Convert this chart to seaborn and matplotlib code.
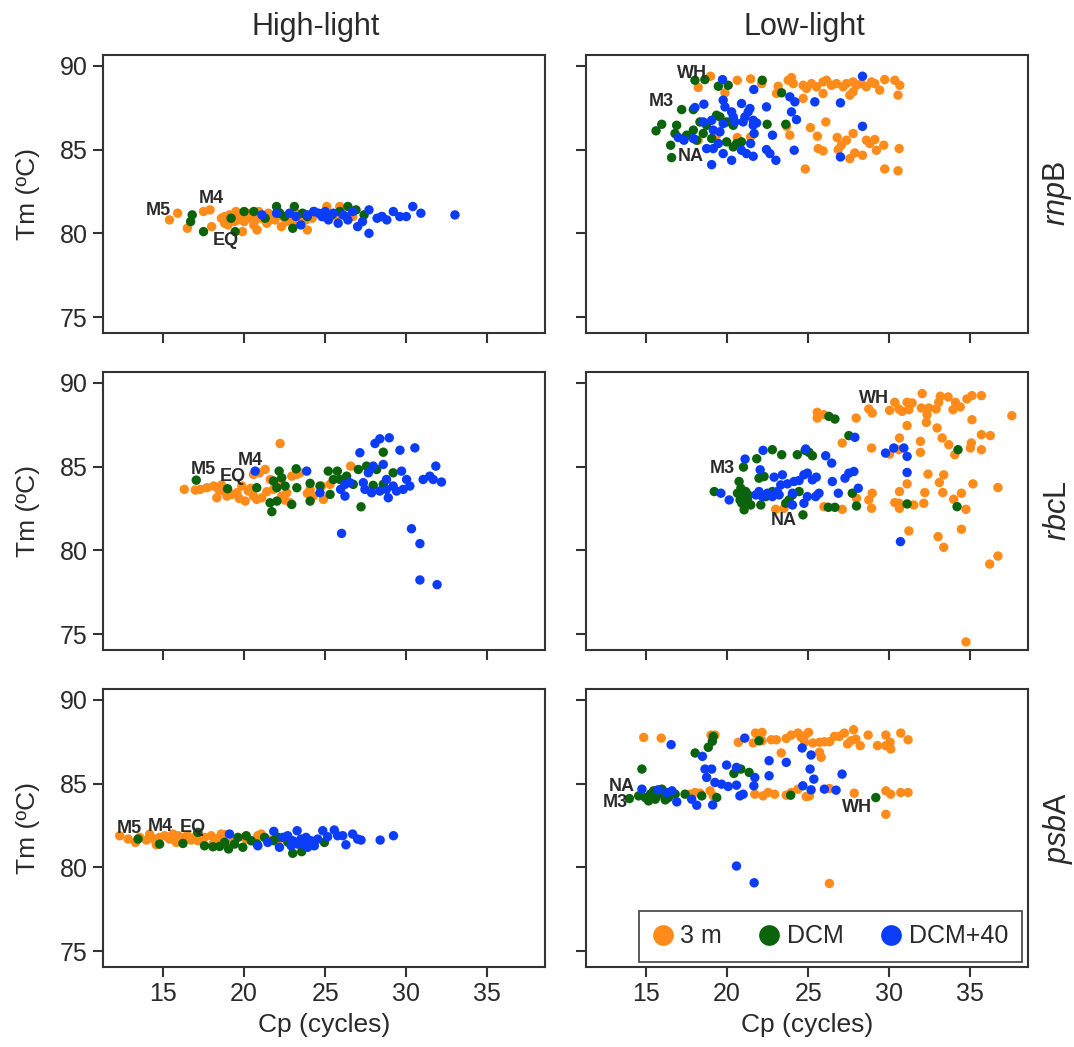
import pandas as pd
import matplotlib
matplotlib.use("Agg")
import matplotlib.pyplot as plt
import seaborn as sns

depths = ["3 m", "DCM", "DCM+40"]
colors = ["#ff8c1a", "#0b640b", "#0a3cfa"]
genes = ["rnpB", "rbcL", "psbA"]
gene_labels = [r"$\it{rnp}$B", r"$\it{rbc}$L", r"$\it{psb}$A"]
lights = ["High-light", "Low-light"]
x_ticks = [15, 20, 25, 30, 35]
y_ticks = [75, 80, 85, 90]

# (Cp, Tm) pairs, one list per panel and depth
rnpb_hl_3m = [(15.4, 80.8), (15.9, 81.2), (16.5, 80.3), (17.5, 81.3), (17.9, 81.4), (18.0, 80.4),
              (18.6, 80.9), (18.8, 81.0), (18.8, 80.6), (19.0, 80.5), (19.3, 81.1), (19.5, 81.3),
              (19.6, 80.8), (19.9, 80.1), (20.0, 80.7), (20.2, 81.2), (20.3, 80.9), (20.5, 81.2),
              (20.6, 80.5), (20.8, 80.2), (20.9, 81.3), (21.1, 80.9), (21.2, 81.0), (21.4, 80.6),
              (21.5, 81.2), (21.7, 81.0), (21.9, 80.8), (22.1, 81.3), (22.3, 80.4), (22.4, 81.0),
              (22.6, 80.7), (22.9, 80.9), (23.2, 81.2), (23.5, 81.0), (23.8, 80.8), (23.9, 80.2),
              (24.2, 80.9), (25.1, 81.6), (25.7, 81.0), (25.9, 81.6), (26.7, 81.0), (19.1, 81.1),
              (19.7, 81.0), (20.4, 81.0), (20.7, 80.8), (21.0, 81.1), (21.6, 80.8), (22.0, 81.1),
              (22.8, 81.1), (23.0, 80.6), (19.4, 80.7)]
rnpb_hl_dcm = [(16.7, 80.7), (16.8, 81.1), (17.5, 80.1), (19.2, 80.9), (19.45, 80.1), (20.0, 81.3),
               (20.6, 81.3), (21.3, 80.9), (22.0, 81.6), (22.5, 81.0), (23.0, 80.3), (23.1, 81.6),
               (23.6, 81.2), (24.3, 81.3), (24.9, 81.0), (25.4, 81.1), (26.4, 81.6), (26.9, 81.4),
               (27.4, 81.1), (28.5, 81.0), (22.2, 81.2), (23.9, 81.0), (25.9, 81.3)]
rnpb_hl_dcm40 = [(21.1, 81.1), (22.0, 81.2), (22.8, 81.2), (23.2, 81.0), (23.5, 80.5), (23.9, 81.1),
                 (24.3, 81.3), (24.8, 81.0), (25.2, 80.8), (25.5, 81.2), (25.8, 80.6), (26.1, 81.1),
                 (26.4, 80.8), (26.7, 81.3), (27.0, 80.4), (27.3, 80.7), (27.7, 81.4), (27.7, 80.0),
                 (28.2, 80.9), (28.5, 81.0), (28.8, 80.8), (29.2, 81.3), (29.6, 81.0), (30.0, 81.0),
                 (30.4, 81.6), (30.9, 81.2), (33.0, 81.1), (24.6, 81.2), (26.3, 81.0), (25.0, 81.3)]

rnpb_ll_3m = [(18.98, 89.38), (18.22, 88.71), (19.87, 88.39), (20.63, 89.14), (21.45, 89.22), (22.13, 88.94),
              (23.15, 88.78), (23.05, 88.35), (23.77, 89.14), (23.97, 89.3), (24.08, 88.94), (24.69, 88.84),
              (24.9, 88.65), (25.21, 88.94), (25.51, 88.75), (25.92, 89.04), (26.13, 89.14), (26.44, 88.84),
              (26.75, 88.94), (27.16, 88.75), (27.36, 88.94), (27.77, 89.04), (27.98, 88.84), (28.29, 88.94),
              (28.59, 88.75), (28.9, 89.04), (29.11, 88.94), (29.41, 88.55), (29.72, 89.18), (30.34, 89.14),
              (30.65, 88.84), (30.54, 88.25), (24.69, 88.05), (25.92, 88.35), (27.57, 88.25), (27.77, 88.45),
              (23.67, 86.39), (23.87, 85.86), (25.14, 86.31), (26.09, 86.65), (25.57, 85.8), (25.62, 85.06),
              (25.92, 84.92), (26.79, 85.72), (26.85, 85.0), (27.05, 85.26), (27.36, 85.56), (27.77, 85.96),
              (27.57, 84.46), (27.87, 84.8), (28.35, 84.66), (28.59, 85.56), (28.8, 85.36), (29.11, 85.6),
              (29.21, 84.96), (29.66, 85.26), (29.72, 83.84), (30.61, 85.06), (30.54, 83.73), (24.82, 83.84),
              (20.63, 85.72), (21.45, 85.76), (19.35, 85.86), (18.22, 85.56)]
rnpb_ll_dcm = [(18.02, 89.14), (18.63, 89.18), (19.46, 88.78), (20.07, 88.84), (22.17, 89.14), (23.36, 88.39),
               (17.2, 87.39), (17.92, 87.39), (15.97, 86.51), (15.62, 86.12), (16.89, 86.45), (16.79, 85.96),
               (17.51, 85.86), (17.92, 86.16), (18.33, 86.65), (18.74, 86.45), (19.35, 87.05), (19.56, 86.95),
               (19.97, 86.65), (20.38, 86.45), (19.05, 85.66), (19.97, 85.46), (20.38, 85.16), (20.59, 85.36),
               (20.89, 85.46), (16.52, 85.26), (16.58, 84.52), (22.47, 86.51), (23.62, 86.51), (18.53, 85.96),
               (18.12, 85.56)]
rnpb_ll_dcm40 = [(19.72, 89.18), (28.35, 89.38), (21.65, 88.59), (20.89, 87.75), (21.41, 87.45), (21.3, 87.25),
                 (22.43, 87.55), (18.57, 87.71), (18.02, 87.51), (19.76, 87.95), (19.87, 87.55), (20.28, 87.25),
                 (20.38, 86.95), (20.48, 86.65), (20.99, 86.65), (21.1, 86.95), (21.61, 86.75), (21.82, 86.59),
                 (21.61, 86.45), (21.67, 85.96), (23.87, 88.15), (24.18, 87.85), (23.97, 87.25), (24.28, 86.79),
                 (25.41, 87.85), (26.99, 87.79), (28.35, 86.39), (24.14, 84.96), (26.99, 84.56), (16.99, 85.72),
                 (17.34, 85.56), (17.92, 85.66), (18.53, 86.65), (19.05, 86.75), (19.15, 86.16), (19.56, 86.06),
                 (19.76, 86.55), (18.74, 85.06), (19.15, 85.06), (19.46, 85.36), (19.76, 84.76), (20.28, 84.36),
                 (19.05, 84.1), (20.89, 84.96), (21.2, 84.76), (21.61, 84.6), (22.43, 85.0), (22.64, 84.76),
                 (23.01, 84.36), (21.45, 85.36), (22.8, 85.86)]

rbcl_hl_3m = [(16.31, 83.64), (16.99, 83.6), (17.3, 83.64), (17.71, 83.74), (18.12, 83.84), (18.43, 83.64),
              (18.32, 83.14), (18.73, 83.54), (18.94, 83.24), (19.25, 83.34), (19.55, 83.44), (19.86, 83.84),
              (20.07, 82.94), (20.27, 83.54), (20.58, 83.24), (20.78, 83.04), (21.09, 83.14), (20.58, 84.53),
              (20.95, 84.63), (21.3, 84.83), (21.61, 84.23), (21.81, 83.64), (22.22, 84.04), (22.22, 86.38),
              (22.32, 83.24), (22.63, 83.44), (22.84, 82.84), (22.94, 84.43), (23.25, 84.53), (23.45, 84.63),
              (24.07, 83.64), (24.27, 83.24), (24.78, 83.84), (24.89, 83.04), (25.3, 83.94), (26.57, 85.03),
              (18.6, 83.9), (19.7, 83.1), (20.4, 83.7), (21.4, 83.5), (22.5, 83.0), (23.9, 83.4)]
rbcl_hl_dcm = [(17.05, 84.19), (18.98, 83.68), (20.78, 83.74), (21.71, 82.31), (21.6, 82.84), (22.16, 84.73),
               (21.81, 84.14), (22.02, 83.74), (22.32, 84.33), (22.53, 83.84), (22.02, 82.94), (22.94, 82.74),
               (23.21, 84.87), (23.25, 83.74), (24.07, 84.0), (24.07, 82.94), (24.68, 83.84), (25.19, 84.73),
               (25.75, 84.73), (25.5, 84.23), (25.91, 84.23), (26.32, 84.43), (26.73, 83.94), (27.04, 84.83),
               (27.21, 82.6), (27.55, 85.03), (27.96, 83.88), (28.17, 84.83), (28.58, 85.86), (29.19, 84.63),
               (28.58, 83.94), (25.3, 83.34)]
rbcl_hl_dcm40 = [(23.86, 84.73), (24.68, 83.44), (26.01, 81.01), (25.95, 83.64), (26.22, 83.94), (26.53, 84.04),
                 (26.22, 83.24), (27.14, 85.83), (27.35, 84.04), (27.45, 83.64), (27.66, 84.63), (27.86, 83.44),
                 (27.96, 85.03), (28.07, 86.38), (28.37, 86.66), (28.58, 85.13), (28.78, 84.23), (28.89, 83.14),
                 (28.95, 86.72), (29.19, 83.84), (29.61, 85.98), (29.71, 84.73), (29.81, 83.64), (30.02, 84.23),
                 (30.22, 83.84), (30.53, 86.12), (30.32, 81.29), (30.84, 80.4), (30.84, 78.23), (31.9, 77.95),
                 (31.04, 84.23), (31.45, 84.43), (31.66, 84.23), (31.82, 85.03), (32.17, 84.08), (28.37, 83.54),
                 (28.78, 83.64), (29.4, 83.54), (20.68, 84.73)]

rbcl_ll_3m = [(35.68, 89.24), (35.1, 89.24), (34.79, 89.04), (34.38, 88.56), (34.08, 88.84), (33.93, 88.4),
              (33.63, 89.16), (33.15, 89.2), (33.05, 88.84), (32.89, 88.44), (32.44, 88.5), (32.33, 88.1),
              (32.29, 87.64), (31.98, 88.5), (32.03, 89.36), (31.41, 88.8), (31.21, 88.4), (31.1, 88.84),
              (30.79, 88.3), (30.59, 88.44), (30.34, 88.84), (30.02, 88.36), (28.95, 88.2), (28.74, 88.44),
              (27.96, 87.9), (25.56, 88.24), (25.56, 87.9), (25.97, 88.1), (35.1, 87.8), (32.95, 87.31),
              (31.1, 87.45), (33.26, 86.71), (33.67, 86.31), (34.04, 85.71), (35.06, 86.41), (35.0, 86.11),
              (35.68, 86.01), (35.68, 86.91), (31.92, 86.51), (31.92, 85.85), (30.63, 86.71), (30.02, 85.75),
              (30.59, 86.01), (28.91, 86.11), (27.1, 86.41), (32.39, 84.55), (33.36, 84.51), (33.09, 84.05),
              (35.16, 83.97), (30.63, 83.51), (31.1, 83.97), (32.19, 83.45), (33.3, 83.45), (34.45, 83.41),
              (33.97, 83.05), (34.73, 82.45), (32.13, 82.81), (31.51, 82.71), (30.59, 82.81), (30.34, 82.85),
              (30.63, 82.51), (28.95, 83.41), (28.74, 83.01), (28.91, 82.51), (27.98, 83.11), (27.1, 82.45),
              (25.97, 82.61), (25.56, 83.31), (23.0, 82.45), (23.51, 82.51), (31.21, 81.16), (33.01, 80.82),
              (33.36, 80.18), (34.45, 81.26), (34.73, 74.53), (36.19, 79.18), (36.7, 79.66), (37.56, 88.04),
              (36.7, 83.75), (36.23, 86.85)]
rbcl_ll_dcm = [(19.21, 83.51), (20.74, 84.11), (20.85, 83.71), (20.64, 83.41), (20.95, 83.21), (21.15, 83.51),
               (20.91, 82.81), (21.05, 82.42), (21.26, 83.01), (21.46, 82.71), (21.01, 84.97), (21.83, 85.47),
               (21.97, 84.31), (22.28, 84.41), (22.08, 82.71), (22.79, 86.01), (23.37, 85.71), (24.33, 85.71),
               (24.81, 85.97), (25.05, 85.85), (25.26, 85.65), (24.03, 83.31), (23.82, 83.01), (23.62, 82.81),
               (24.44, 83.51), (24.68, 82.12), (26.28, 88.0), (26.65, 87.84), (26.24, 82.57), (26.65, 82.57),
               (27.51, 86.85), (27.72, 83.41), (27.98, 82.65), (31.1, 82.77), (34.18, 82.61), (34.24, 86.01),
               (22.79, 83.51), (22.38, 83.21), (21.3, 83.3), (20.8, 83.0)]
rbcl_ll_dcm40 = [(19.62, 83.41), (20.13, 83.01), (21.11, 85.45), (22.22, 85.97), (22.04, 84.81), (21.77, 83.31),
                 (21.97, 83.51), (22.18, 83.21), (22.49, 83.41), (22.79, 83.21), (23.1, 83.51), (23.21, 83.31),
                 (22.9, 84.37), (23.41, 84.51), (23.72, 83.97), (23.31, 83.91), (24.03, 83.41), (24.13, 84.11),
                 (24.44, 84.17), (24.74, 84.51), (24.85, 86.05), (24.95, 84.61), (25.26, 84.21), (25.5, 84.37),
                 (24.74, 82.81), (24.03, 82.71), (24.95, 83.21), (25.67, 83.41), (26.08, 85.65), (26.45, 85.21),
                 (26.49, 84.11), (26.86, 83.41), (27.27, 84.31), (27.51, 84.61), (27.82, 84.71), (28.09, 83.71),
                 (27.88, 86.75), (29.77, 85.81), (30.28, 86.11), (30.9, 86.11), (31.1, 85.61), (31.1, 84.65),
                 (30.69, 80.52), (25.46, 83.21)]

psba_hl_3m = [(12.33, 81.89), (12.85, 81.69), (13.3, 81.49), (13.97, 81.63), (14.18, 81.99), (14.59, 81.35),
              (14.79, 81.79), (15.1, 81.89), (15.41, 81.69), (15.82, 81.49), (15.92, 81.89), (16.33, 81.79),
              (16.74, 81.63), (17.05, 81.89), (17.15, 81.59), (17.56, 81.79), (17.97, 81.89), (18.08, 81.39),
              (18.59, 81.99), (18.79, 81.95), (19.31, 81.55), (20.03, 81.79), (20.13, 81.69), (20.64, 81.55),
              (20.85, 81.89), (21.05, 81.99), (21.56, 81.63), (22.08, 81.47), (23.72, 81.43), (13.56, 81.79),
              (15.62, 81.99), (14.4, 81.7), (15.3, 81.8), (16.0, 81.7), (16.5, 81.9), (17.4, 81.7),
              (18.3, 81.7)]
psba_hl_dcm = [(13.46, 81.69), (14.79, 81.39), (16.23, 81.43), (17.56, 81.29), (18.08, 81.23), (18.49, 81.25),
               (19.04, 81.1), (19.62, 81.79), (19.92, 81.2), (20.13, 81.89), (20.44, 81.59), (21.26, 81.79),
               (22.08, 81.79), (22.49, 81.79), (23.0, 80.84), (23.55, 80.94), (24.95, 81.49), (19.41, 81.39),
               (17.15, 82.09), (18.8, 81.5), (20.8, 81.4), (21.8, 81.6), (22.7, 81.5)]
psba_hl_dcm40 = [(19.1, 81.99), (20.85, 81.29), (21.46, 81.49), (21.83, 82.15), (22.18, 81.2), (22.38, 81.79),
                 (22.69, 81.89), (23.0, 81.59), (23.27, 82.19), (23.31, 81.39), (23.51, 81.69), (23.82, 81.79),
                 (24.13, 81.59), (24.33, 81.29), (24.54, 81.69), (24.85, 82.19), (25.15, 81.83), (25.56, 82.23),
                 (25.77, 81.89), (26.08, 81.89), (26.28, 81.35), (26.69, 81.99), (27.0, 81.69), (27.21, 81.63),
                 (28.39, 81.63), (29.21, 81.89), (23.92, 81.2), (22.9, 81.29), (23.2, 81.5), (23.6, 81.4)]

psba_ll_3m = [(14.86, 87.76), (15.94, 87.72), (19.01, 87.9), (19.25, 87.9), (20.69, 87.47), (21.61, 87.43),
              (21.75, 88.02), (22.16, 88.06), (22.16, 87.56), (22.73, 87.62), (23.04, 87.62), (23.34, 86.83),
              (23.65, 87.7), (23.96, 87.9), (24.37, 88.02), (24.57, 87.76), (24.78, 87.86), (25.02, 88.06),
              (24.78, 87.47), (25.29, 87.43), (25.7, 87.47), (25.7, 86.87), (25.8, 86.57), (26.0, 87.5),
              (26.31, 87.5), (26.62, 87.82), (26.92, 87.82), (27.23, 88.02), (27.43, 87.37), (27.8, 88.22),
              (27.64, 87.56), (27.94, 87.66), (28.21, 87.27), (28.7, 87.9), (29.27, 87.27), (29.79, 87.9),
              (29.79, 87.27), (30.05, 87.47), (30.09, 87.07), (30.71, 88.02), (31.16, 87.62), (15.98, 84.31),
              (17.72, 84.37), (18.03, 84.47), (18.33, 84.43), (18.95, 84.57), (19.15, 84.27), (21.71, 84.37),
              (22.22, 84.27), (22.53, 84.47), (22.93, 84.37), (23.65, 84.31), (23.96, 84.47), (24.37, 84.67),
              (24.88, 84.23), (25.08, 84.27), (26.31, 84.71), (27.84, 84.43), (29.79, 84.57), (30.09, 84.37),
              (30.71, 84.47), (31.16, 84.47), (29.79, 83.17), (26.31, 79.04)]
psba_ll_dcm = [(13.98, 84.11), (14.55, 84.27), (14.75, 85.87), (14.96, 84.17), (15.27, 84.37), (15.57, 84.07),
               (15.98, 84.67), (16.39, 84.17), (16.8, 84.37), (17.41, 84.37), (18.44, 84.27), (19.36, 84.17),
               (15.78, 84.37), (16.19, 84.03), (15.16, 83.97), (15.47, 84.57), (18.03, 86.83), (18.84, 87.17),
               (19.09, 87.53), (19.15, 87.82), (20.42, 85.61), (20.85, 85.87), (21.36, 85.67), (21.97, 87.56),
               (29.17, 84.17), (23.92, 84.31), (15.4, 84.2), (15.7, 84.4)]
psba_ll_dcm40 = [(14.75, 84.67), (16.55, 87.33), (18.48, 86.63), (21.09, 87.72), (18.64, 85.87), (19.05, 85.87),
                 (18.74, 85.37), (19.25, 85.07), (19.66, 84.97), (20.07, 84.83), (19.97, 86.11), (20.58, 85.97),
                 (20.58, 84.91), (21.71, 85.37), (21.65, 84.87), (22.59, 86.37), (22.59, 85.47), (23.65, 86.27),
                 (24.63, 87.13), (25.18, 86.71), (25.12, 85.87), (25.35, 85.27), (24.67, 84.87), (25.18, 84.63),
                 (26.0, 84.67), (26.72, 84.61), (27.09, 85.57), (20.79, 84.27), (20.99, 84.37), (19.11, 83.73),
                 (18.13, 83.71), (17.82, 84.07), (16.9, 83.91), (16.6, 84.57), (15.74, 84.63), (16.29, 84.47),
                 (20.58, 80.08), (21.67, 79.08)]

# station labels: (text, Cp, Tm)
rnpb_hl_sites = [("M5", 14.7, 81.35), ("M4", 18.0, 82.05), ("EQ", 18.9, 79.6)]
rnpb_ll_sites = [("WH", 17.85, 89.55), ("M3", 15.95, 87.9), ("NA", 17.75, 84.6)]
rbcl_hl_sites = [("M5", 17.5, 84.8), ("EQ", 19.3, 84.4), ("M4", 20.4, 85.35)]
rbcl_ll_sites = [("WH", 29.05, 89.05), ("M3", 19.7, 84.9), ("NA", 23.5, 81.8)]
psba_hl_sites = [("M5", 12.9, 82.3), ("M4", 14.85, 82.45), ("EQ", 16.85, 82.4)]
psba_ll_sites = [("NA", 13.5, 84.8), ("M3", 13.1, 83.9), ("WH", 28.0, 83.6)]

panels = {
    ("rnpB", "High-light"): [rnpb_hl_3m, rnpb_hl_dcm, rnpb_hl_dcm40],
    ("rnpB", "Low-light"): [rnpb_ll_3m, rnpb_ll_dcm, rnpb_ll_dcm40],
    ("rbcL", "High-light"): [rbcl_hl_3m, rbcl_hl_dcm, rbcl_hl_dcm40],
    ("rbcL", "Low-light"): [rbcl_ll_3m, rbcl_ll_dcm, rbcl_ll_dcm40],
    ("psbA", "High-light"): [psba_hl_3m, psba_hl_dcm, psba_hl_dcm40],
    ("psbA", "Low-light"): [psba_ll_3m, psba_ll_dcm, psba_ll_dcm40],
}
sites = {
    ("rnpB", "High-light"): rnpb_hl_sites, ("rnpB", "Low-light"): rnpb_ll_sites,
    ("rbcL", "High-light"): rbcl_hl_sites, ("rbcL", "Low-light"): rbcl_ll_sites,
    ("psbA", "High-light"): psba_hl_sites, ("psbA", "Low-light"): psba_ll_sites,
}

# long table
frames = []
for (gene, light), series in panels.items():
    for depth, pts in zip(depths, series):
        d = pd.DataFrame(pts, columns=["Cp", "Tm"])
        d["gene"] = gene
        d["light"] = light
        d["depth"] = depth
        frames.append(d)
df = pd.concat(frames, ignore_index=True)

sns.set_style("ticks")
plt.rcParams["font.family"] = ["Liberation Sans", "DejaVu Sans"]
plt.rcParams["mathtext.fontset"] = "custom"
plt.rcParams["mathtext.it"] = "Liberation Sans:italic"
plt.rcParams["mathtext.rm"] = "Liberation Sans"

dark = "#333333"
txt_col = "#2a2a2a"
fig = plt.figure(figsize=(10.74, 10.47), dpi=100)
lefts = [0.0959, 0.5456]
bottoms = [0.682, 0.3792, 0.0764]
w, h = 0.4115, 0.2655

for r, gene in enumerate(genes):
    for c, light in enumerate(lights):
        ax = fig.add_axes([lefts[c], bottoms[r], w, h])
        sub = df[(df["gene"] == gene) & (df["light"] == light)]
        show_leg = (r == 2 and c == 1)
        sns.scatterplot(data=sub, x="Cp", y="Tm", hue="depth", hue_order=depths,
                        palette=colors, s=46, linewidth=0, ax=ax, legend=show_leg)
        ax.set_xlim(11.3, 38.55)
        ax.set_ylim(74.05, 90.65)
        ax.set_xticks(x_ticks)
        ax.set_yticks(y_ticks)
        for sp in ax.spines.values():
            sp.set_visible(True)
            sp.set_color(dark)
            sp.set_linewidth(1.5)
        ax.tick_params(direction="out", length=7, width=1.5, color=dark,
                       labelsize=18, labelcolor=txt_col, pad=4)
        ax.tick_params(labelleft=(c == 0), labelbottom=(r == 2))
        ax.set_xlabel("Cp (cycles)" if r == 2 else "", fontsize=19, color=txt_col, labelpad=5)
        ax.set_ylabel("Tm (ºC)" if c == 0 else "", fontsize=19, color=txt_col, labelpad=14)

        for txt, xv, yv in sites[(gene, light)]:
            ax.text(xv, yv, txt, ha="center", va="center", fontsize=13,
                    fontweight="bold", color="#2b2b2b")

        if show_leg:
            handles, labels = ax.get_legend_handles_labels()
            ax.get_legend().remove()
            leg = ax.legend(handles, labels, ncol=3, loc="lower right",
                            bbox_to_anchor=(0.986, 0.018), borderaxespad=0,
                            frameon=True, fancybox=False, edgecolor="#222222",
                            fontsize=18, markerscale=2.2, handlelength=0.8,
                            handletextpad=0.3, columnspacing=1.5, borderpad=0.55)
            leg.get_frame().set_linewidth(1.3)
            for t in leg.get_texts():
                t.set_color(txt_col)

    fig.text(0.985, bottoms[r] + h / 2, gene_labels[r], rotation=90,
             ha="center", va="center", fontsize=22, color=txt_col)

fig.text(0.294, 0.974, lights[0], ha="center", va="center", fontsize=22, color=txt_col)
fig.text(0.749, 0.974, lights[1], ha="center", va="center", fontsize=22, color=txt_col)

plt.savefig("out.png", dpi=100)
